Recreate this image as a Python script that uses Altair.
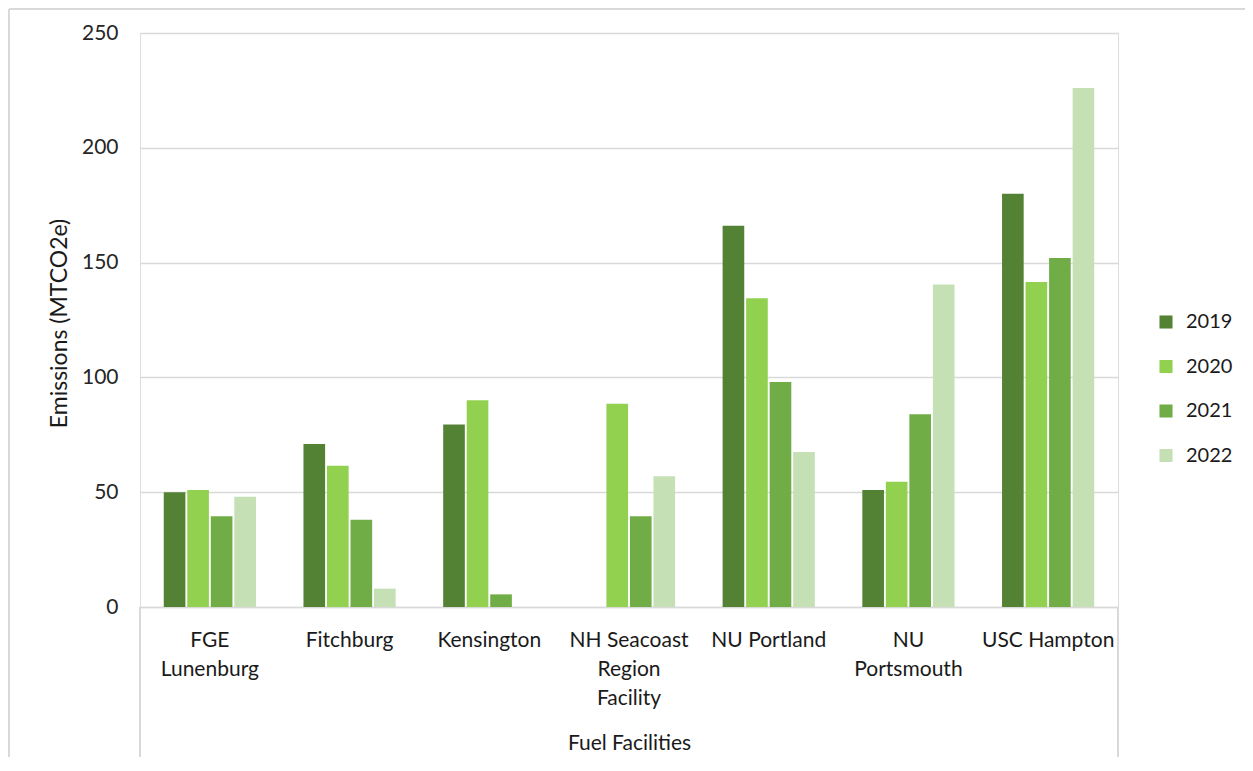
import altair as alt
import pandas as pd

facilities = ["FGE Lunenburg", "Fitchburg", "Kensington", "NH Seacoast Region Facility",
              "NU Portland", "NU Portsmouth", "USC Hampton"]
years = ["2019", "2020", "2021", "2022"]
v2019 = [50, 71, 79.5, None, 166, 51, 180]
v2020 = [51, 61.5, 90, 88.5, 134.5, 54.5, 141.5]
v2021 = [39.5, 38, 5.5, 39.5, 98, 84, 152]
v2022 = [48, 8, None, 57, 67.5, 140.5, 226]
colors = ["#548235", "#92D050", "#70AD47", "#C5E0B4"]

rows = []
for yr, vals in zip(years, [v2019, v2020, v2021, v2022]):
    for f, v in zip(facilities, vals):
        if v is not None:
            rows.append({"Facility": f, "Year": yr, "Emissions": v})
df = pd.DataFrame(rows)

FONT = "Lato"
label_expr = ("datum.value == 'FGE Lunenburg' ? ['FGE', 'Lunenburg'] : "
              "datum.value == 'NH Seacoast Region Facility' ? ['NH Seacoast', 'Region', 'Facility'] : "
              "datum.value == 'NU Portsmouth' ? ['NU', 'Portsmouth'] : datum.value")

bars = alt.Chart(df).mark_bar().encode(
    x=alt.X("Facility:N", sort=facilities,
            scale=alt.Scale(paddingInner=0.34, paddingOuter=0.17),
            axis=alt.Axis(title="Fuel Facilities", labelAngle=0, labelExpr=label_expr,
                          labelFont=FONT, labelFontSize=21, labelColor="#1a1a1a",
                          labelLineHeight=29, labelPadding=33, labelBaseline="middle",
                          ticks=False, domainColor="#d9d9d9", domainWidth=1.5,
                          titleFont=FONT, titleFontSize=21, titleFontWeight="normal",
                          titleColor="#1a1a1a", titleY=136, titleBaseline="middle")),
    xOffset=alt.XOffset("Year:N", sort=years, scale=alt.Scale(paddingInner=0.08)),
    y=alt.Y("Emissions:Q", scale=alt.Scale(domain=[0, 250]),
            axis=alt.Axis(title="Emissions (MTCO2e)", values=[0, 50, 100, 150, 200, 250],
                          labelFont=FONT, labelFontSize=21, labelColor="#262626",
                          labelPadding=22, ticks=False, domain=False,
                          gridColor="#d9d9d9", gridWidth=1.4,
                          titleFont=FONT, titleFontSize=23, titleFontWeight="normal",
                          titleColor="#1a1a1a", titleX=-81, titleY=290,
                          titleAngle=-90, titleAlign="center", titleBaseline="middle")),
    color=alt.Color("Year:N", sort=years, scale=alt.Scale(domain=years, range=colors),
                    legend=alt.Legend(title=None, orient="none", legendX=1016, legendY=279,
                                      symbolType="square", symbolSize=170, symbolStrokeWidth=0,
                                      labelFont=FONT, labelFontSize=20, labelColor="#1a1a1a",
                                      rowPadding=24.5, labelOffset=10)),
)

# category box lines and outer chart border
box_left = alt.Chart(df).mark_rule(color="#d9d9d9", strokeWidth=1.5).encode(
    x=alt.value(0), y=alt.value(574), y2=alt.value(725))
box_right = alt.Chart(df).mark_rule(color="#d9d9d9", strokeWidth=1.5).encode(
    x=alt.value(978), y=alt.value(574), y2=alt.value(725))
border_top = alt.Chart(df).mark_rule(color="#d9d9d9", strokeWidth=1.5).encode(
    x=alt.value(-131), x2=alt.value(1105), y=alt.value(-24))
border_left = alt.Chart(df).mark_rule(color="#d9d9d9", strokeWidth=1.5).encode(
    x=alt.value(-131), y=alt.value(-24), y2=alt.value(730))

chart = alt.layer(bars, box_left, box_right, border_top, border_left).properties(
    width=978, height=574,
    autosize=alt.AutoSizeParams(type="none"),
    padding={"left": 132, "top": 25, "right": 127, "bottom": 150},
).configure_view(stroke=None).configure(background="white")

chart.save("out.html", embed_options={"renderer": "svg", "actions": False})
